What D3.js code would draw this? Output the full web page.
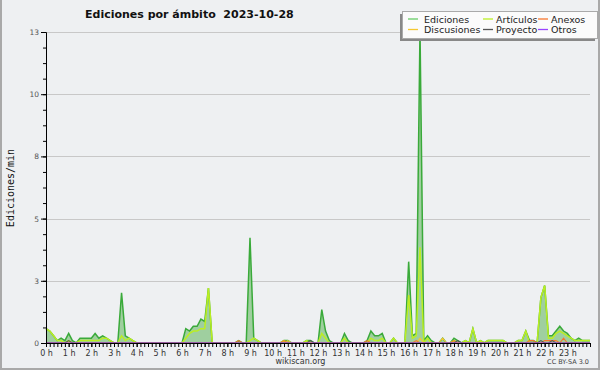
<!DOCTYPE html>
<html lang="es">
<head>
    <meta charset="UTF-8">
    <title>Ediciones por ámbito</title>
    <style>
        body { margin: 0; background: #eef0f2; }
        svg text { font-family: "DejaVu Sans", sans-serif; }
    </style>
</head>
<body>
<script src="https://cdn.jsdelivr.net/npm/d3@7/dist/d3.min.js"></script>
<script>

    // one value every 10 minutes, 00:00 .. 24:00 (145 values), edits per minute
    var ediciones = [
        0.6, 0.5, 0.3, 0.1, 0.2, 0.1,   // 0 h
        0.4, 0.1, 0, 0.2, 0.2, 0.2,     // 1 h
        0.2, 0.4, 0.2, 0.3, 0.2, 0.1,   // 2 h
        0, 0, 2.1, 0.3, 0.2, 0.1,       // 3 h
        0, 0, 0, 0, 0, 0,               // 4 h
        0, 0, 0, 0, 0, 0,               // 5 h
        0, 0.6, 0.5, 0.7, 0.7, 1.0,     // 6 h
        0.9, 2.3, 0, 0, 0, 0,           // 7 h
        0, 0, 0, 0.1, 0, 0,             // 8 h
        4.4, 0.2, 0.1, 0, 0, 0,         // 9 h
        0, 0, 0, 0.1, 0.1, 0,           // 10 h
        0, 0, 0, 0.1, 0.1, 0,           // 11 h
        0, 1.4, 0.5, 0.1, 0, 0,         // 12 h
        0, 0.4, 0.1, 0, 0, 0,           // 13 h
        0, 0.1, 0.5, 0.3, 0.3, 0.4,     // 14 h
        0, 0, 0.2, 0, 0, 0,             // 15 h
        3.4, 0.3, 0.4, 13.1, 0.1, 0.3,  // 16 h
        0.1, 0, 0, 0.2, 0, 0,           // 17 h
        0.2, 0.1, 0, 0.1, 0, 0.6,       // 18 h
        0, 0.1, 0, 0.1, 0.1, 0.1,       // 19 h
        0.1, 0.1, 0, 0, 0, 0.1,         // 20 h
        0.1, 0.5, 0.1, 0.1, 0, 1.9,     // 21 h
        2.4, 0.3, 0.3, 0.5, 0.7, 0.5,   // 22 h
        0.4, 0.2, 0.1, 0.2, 0.1, 0.1,   // 23 h
        0.1
    ];

    var articulos = [
        0.6, 0.5, 0.3, 0.1, 0.1, 0,
        0.1, 0, 0, 0.1, 0.1, 0.1,
        0.1, 0.1, 0.1, 0.2, 0.2, 0.1,
        0, 0, 0.3, 0.1, 0.2, 0.1,
        0, 0, 0, 0, 0, 0,
        0, 0, 0, 0, 0, 0,
        0, 0.2, 0.4, 0.5, 0.5, 0.6,
        0.6, 2.3, 0, 0, 0, 0,
        0, 0, 0, 0, 0, 0,
        0.1, 0.2, 0.1, 0, 0, 0,
        0, 0, 0, 0.1, 0, 0,
        0, 0, 0, 0.1, 0, 0,
        0, 0.4, 0.2, 0, 0, 0,
        0, 0.2, 0, 0, 0, 0,
        0, 0, 0.2, 0.1, 0.1, 0.2,
        0, 0, 0.2, 0, 0, 0,
        2.0, 0.2, 0.3, 4.0, 0, 0.2,
        0, 0, 0, 0, 0, 0,
        0.1, 0, 0, 0.1, 0, 0.6,
        0, 0.1, 0, 0.1, 0.1, 0.1,
        0.1, 0.1, 0, 0, 0, 0.1,
        0.1, 0.5, 0, 0, 0, 1.9,
        2.4, 0.2, 0.2, 0.4, 0.5, 0.4,
        0.3, 0.2, 0.1, 0.1, 0.1, 0.1,
        0.1
    ];

    var anexos = [
        0, 0, 0, 0, 0, 0,
        0, 0, 0, 0, 0, 0,
        0, 0, 0, 0, 0, 0,
        0, 0, 0, 0, 0, 0,
        0, 0, 0, 0, 0, 0,
        0, 0, 0, 0, 0, 0,
        0, 0, 0, 0, 0, 0,
        0, 0, 0, 0, 0, 0,
        0, 0, 0, 0.1, 0, 0,
        0, 0, 0, 0, 0, 0,
        0, 0, 0, 0.1, 0, 0,
        0, 0, 0, 0, 0, 0,
        0, 0, 0, 0, 0, 0,
        0, 0, 0, 0, 0, 0,
        0, 0.1, 0, 0, 0, 0,
        0, 0, 0, 0, 0, 0,
        0, 0, 0.1, 0, 0, 0,
        0, 0, 0, 0, 0, 0,
        0.1, 0, 0, 0, 0, 0,
        0, 0, 0, 0, 0, 0,
        0, 0, 0, 0, 0, 0,
        0, 0, 0.1, 0.1, 0, 0,
        0.1, 0.1, 0.1, 0.1, 0, 0.2,
        0, 0, 0, 0, 0, 0,
        0
    ];

    var discusiones = [
        0, 0, 0, 0, 0, 0,
        0, 0, 0, 0, 0, 0,
        0, 0, 0, 0, 0, 0,
        0, 0, 0, 0, 0, 0,
        0, 0, 0, 0, 0, 0,
        0, 0, 0, 0, 0, 0,
        0, 0, 0, 0, 0, 0,
        0, 0, 0, 0, 0, 0,
        0, 0, 0, 0, 0, 0,
        0, 0, 0, 0, 0, 0,
        0, 0, 0, 0, 0.1, 0,
        0, 0, 0, 0, 0, 0,
        0, 0, 0, 0, 0, 0,
        0, 0, 0, 0, 0, 0,
        0, 0, 0, 0, 0, 0,
        0, 0, 0, 0, 0, 0,
        0, 0, 0, 0.2, 0, 0,
        0, 0, 0, 0.2, 0, 0,
        0, 0, 0, 0, 0, 0,
        0, 0, 0, 0, 0, 0,
        0, 0, 0, 0, 0, 0,
        0, 0, 0, 0, 0, 0,
        0, 0, 0, 0, 0, 0,
        0, 0, 0, 0, 0, 0,
        0
    ];

    var proyecto = [
        0, 0, 0, 0, 0, 0,
        0.1, 0, 0, 0, 0, 0,
        0, 0, 0, 0, 0, 0,
        0, 0, 0, 0, 0, 0,
        0, 0, 0, 0, 0, 0,
        0, 0, 0, 0, 0, 0,
        0, 0, 0, 0, 0, 0,
        0, 0, 0, 0, 0, 0,
        0, 0, 0, 0, 0, 0,
        0, 0, 0, 0, 0, 0,
        0, 0, 0, 0, 0, 0,
        0, 0, 0, 0, 0.1, 0,
        0, 0, 0, 0, 0, 0,
        0, 0, 0, 0, 0, 0,
        0, 0, 0, 0, 0, 0,
        0, 0, 0, 0, 0, 0,
        0, 0, 0, 0, 0, 0,
        0, 0, 0, 0, 0, 0,
        0, 0.1, 0, 0, 0, 0,
        0, 0, 0, 0, 0, 0,
        0, 0, 0, 0, 0, 0,
        0, 0, 0, 0, 0, 0.1,
        0, 0, 0.1, 0, 0, 0,
        0, 0, 0, 0, 0, 0,
        0
    ];

    var otros = ediciones.map(function(){ return 0; });

    var seriesNames = ["Ediciones", "Artículos", "Anexos", "Discusiones", "Proyecto", "Otros"];
    var hourLabels = d3.range(0, 24).map(function(h){ return h + " h"; });
    var yTickValues = [0, 2.6, 5.2, 7.8, 10.4, 13];
    var yTickLabels = ["0", "3", "5", "8", "10", "13"];

    var title = "Ediciones por ámbito  2023-10-28";
    var yTitle = "Ediciones/min";


    var width = 600, height = 370;
    var plotLeft = 46, plotRight = 590, plotTop = 32, plotBottom = 343;

    var colors = {
        "Ediciones": "#66cc66",
        "Artículos": "#bbee22",
        "Anexos": "#f7762d",
        "Discusiones": "#f5c830",
        "Proyecto": "#555555",
        "Otros": "#9944ff"
    };

    var svg = d3.select("body").append("svg")
        .attr("width", width)
        .attr("height", height);

    // background + frame
    svg.append("rect")
        .attr("width", width).attr("height", height)
        .style("fill", "#eef0f2");
    svg.append("rect")
        .attr("x", 1).attr("y", -5)
        .attr("width", width - 2).attr("height", height + 4)
        .style("fill", "none")
        .style("stroke", "#a9a9a9")
        .style("stroke-width", 2);

    var x = d3.scaleLinear()
        .domain([0, 24])
        .range([plotLeft, plotRight]);

    var y = d3.scaleLinear()
        .domain([0, 13])
        .range([plotBottom, plotTop]);

    var hourOf = function(d, i){ return i / 6; };

    // grid
    svg.append("g")
        .selectAll("line")
        .data(yTickValues.slice(1))
        .enter()
        .append("line")
        .attr("x1", plotLeft).attr("x2", plotRight)
        .attr("y1", function(d){ return Math.round(y(d)) + 0.5; })
        .attr("y2", function(d){ return Math.round(y(d)) + 0.5; })
        .style("stroke", "#c8c8c8");

    // Ediciones area
    var area = d3.area()
        .x(function(d, i){ return x(hourOf(d, i)); })
        .y0(y(0))
        .y1(function(d){ return y(d); });

    var line = d3.line()
        .x(function(d, i){ return x(hourOf(d, i)); })
        .y(function(d){ return y(d); });

    svg.append("path")
        .datum(ediciones)
        .attr("d", area)
        .style("fill", "#9fcf9f");

    svg.append("path")
        .datum(ediciones)
        .attr("d", line)
        .style("fill", "none")
        .style("stroke", "#3aaa3a")
        .style("stroke-width", 1.5);

    var others = [
        ["Artículos", articulos],
        ["Discusiones", discusiones],
        ["Anexos", anexos],
        ["Proyecto", proyecto],
        ["Otros", otros]
    ];
    others.forEach(function(s){
        svg.append("path")
            .datum(s[1])
            .attr("d", line)
            .style("fill", "none")
            .style("stroke", colors[s[0]])
            .style("stroke-width", s[0] == "Artículos" ? 1.5 : 1.2);
    });

    // Axes
    var gAxis = svg.append("g");

    var minorX = d3.range(0, 145).map(function(i){ return i / 6; });
    gAxis.append("g")
        .attr("transform", "translate(0," + plotBottom + ")")
        .call(d3.axisBottom(x).tickValues(minorX).tickSize(4).tickSizeOuter(0).tickFormat(""));

    gAxis.append("g")
        .attr("transform", "translate(0," + plotBottom + ")")
        .call(d3.axisBottom(x).tickValues(d3.range(0, 24)).tickSize(4).tickSizeOuter(0).tickPadding(3)
            .tickFormat(function(d){ return hourLabels[d]; }))
        .call(function(g){
            g.selectAll("text").style("font-size", "8px").style("fill", "#333");
        });

    var minorY = d3.range(0, 21).map(function(i){ return i * 0.65; });
    gAxis.append("g")
        .attr("transform", "translate(" + plotLeft + ",0)")
        .call(d3.axisLeft(y).tickValues(minorY).tickSize(3).tickSizeOuter(0).tickFormat(""));

    gAxis.append("g")
        .attr("transform", "translate(" + plotLeft + ",0)")
        .call(d3.axisLeft(y).tickValues(yTickValues).tickSize(5).tickSizeOuter(0).tickPadding(2)
            .tickFormat(function(d, i){ return yTickLabels[i]; }))
        .call(function(g){
            g.selectAll("text").style("font-size", "7.5px").style("fill", "#555");
        });

    gAxis.selectAll(".domain").style("stroke", "#000");
    gAxis.selectAll(".tick line").style("stroke", "#000");

    // Title
    svg.append("text")
        .attr("x", 85)
        .attr("y", 18)
        .style("font-size", "11px")
        .style("font-weight", "bold")
        .style("fill", "#111")
        .style("white-space", "pre")
        .text(title);

    svg.append("text")
        .attr("transform", "translate(14,188) rotate(-90)")
        .attr("text-anchor", "middle")
        .style("font-family", "'DejaVu Sans Mono', monospace")
        .style("font-size", "10px")
        .style("fill", "#111")
        .text(yTitle);

    svg.append("text")
        .attr("x", 300.5)
        .attr("y", 364)
        .attr("text-anchor", "middle")
        .style("font-size", "8px")
        .style("fill", "#333")
        .text("wikiscan.org");

    svg.append("text")
        .attr("x", 589)
        .attr("y", 364)
        .attr("text-anchor", "end")
        .style("font-size", "6.5px")
        .style("fill", "#444")
        .text("CC BY-SA 3.0");

    // Legend
    var gLegend = svg.append("g");
    gLegend.append("rect")
        .attr("x", 400).attr("y", 14)
        .attr("width", 195).attr("height", 27)
        .style("fill", "#888");
    gLegend.append("rect")
        .attr("x", 402.5).attr("y", 11.5)
        .attr("width", 195).attr("height", 27)
        .style("fill", "#fbfbfb")
        .style("stroke", "#aaa");

    var colX = [408, 483, 538];
    var rowY = [19, 29.5];
    var items = gLegend.selectAll(".item")
        .data(seriesNames)
        .enter()
        .append("g")
        .attr("class", "item")
        .attr("transform", function(d, i){
            return "translate(" + colX[i % 3] + "," + rowY[Math.floor(i / 3)] + ")";
        });
    items.append("line")
        .attr("x1", 0).attr("x2", 10)
        .attr("y1", 0).attr("y2", 0)
        .style("stroke", function(d){ return colors[d]; })
        .style("stroke-width", 1.3);
    items.append("text")
        .attr("x", function(d, i){ return i % 3 == 0 ? 16 : 13; })
        .attr("y", 3.5)
        .style("font-size", "9.5px")
        .style("fill", "#222")
        .text(function(d){ return d; });

</script>
</body>
</html>
